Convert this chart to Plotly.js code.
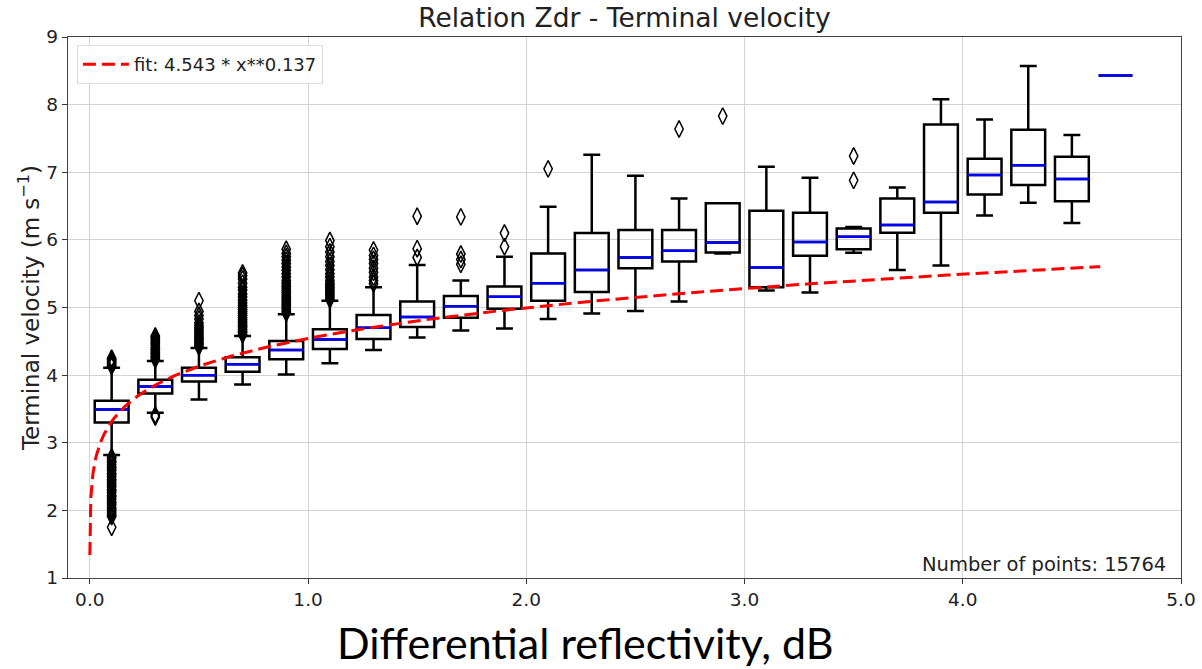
<!DOCTYPE html>
<html>
<head>
<meta charset="utf-8">
<script src="https://cdn.plot.ly/plotly-3.0.1.min.js"></script>
<style>
  html, body { margin: 0; padding: 0; background: #fff; }
  #chart { width: 1202px; height: 669px; }
</style>
</head>
<body>
<div id="chart"></div>
<script>
// ---- Data ----
const binCenters = [0.1, 0.3, 0.5, 0.7, 0.9, 1.1, 1.3, 1.5, 1.7, 1.9, 2.1, 2.3,
                    2.5, 2.7, 2.9, 3.1, 3.3, 3.5, 3.7, 3.9, 4.1, 4.3, 4.5, 4.7];
const q1Values = [3.30, 3.73, 3.905, 4.05, 4.235, 4.385, 4.535, 4.71, 4.85, 4.98, 5.10, 5.23,
                  5.58, 5.68, 5.815, 5.30, 5.765, 5.86, 6.105, 6.40, 6.67, 6.81, 6.57, 8.43];
const medianValues = [3.49, 3.83, 4.00, 4.16, 4.37, 4.525, 4.70, 4.86, 5.02, 5.16, 5.36, 5.555,
                      5.74, 5.84, 5.96, 5.59, 5.97, 6.045, 6.22, 6.56, 6.96, 7.105, 6.90, 8.43];
const q3Values = [3.62, 3.93, 4.11, 4.265, 4.505, 4.68, 4.89, 5.09, 5.17, 5.31, 5.80, 6.10,
                  6.145, 6.145, 6.54, 6.43, 6.40, 6.17, 6.61, 7.705, 7.20, 7.63, 7.23, 8.43];
const lowerWhisker = [2.82, 3.445, 3.64, 3.86, 4.01, 4.175, 4.37, 4.555, 4.66, 4.69, 4.83, 4.91,
                      4.95, 5.09, 5.80, 5.25, 5.22, 5.81, 5.555, 5.62, 6.36, 6.55, 6.25, 8.43];
const upperWhisker = [4.11, 4.21, 4.40, 4.58, 4.90, 5.10, 5.30, 5.63, 5.40, 5.75, 6.49, 7.26,
                      6.95, 6.61, 6.54, 7.08, 6.92, 6.19, 6.775, 8.08, 7.78, 8.57, 7.55, 8.43];

// Outliers (fliers) per bin, same order as binCenters
const outliers = [
  [4.13, 4.15, 4.17, 4.19, 4.21, 4.23, 4.25,
   2.79, 2.77, 2.73, 2.71, 2.68, 2.64, 2.62, 2.59, 2.55, 2.53, 2.50, 2.46, 2.44, 2.41,
   2.38, 2.35, 2.31, 2.29, 2.26, 2.22, 2.20, 2.17, 2.13, 2.11, 2.08, 2.04, 2.02, 1.99,
   1.96, 1.93, 1.91, 1.75],
  [4.23, 4.26, 4.28, 4.31, 4.33, 4.36, 4.38, 4.41, 4.44, 4.47, 4.50, 4.53, 4.56, 4.58, 3.41, 3.38],
  [4.42, 4.45, 4.47, 4.50, 4.53, 4.55, 4.58, 4.61, 4.64, 4.67, 4.70, 4.73, 4.77, 4.83, 4.88, 4.94, 5.10],
  [4.60, 4.63, 4.65, 4.68, 4.71, 4.73, 4.76, 4.79, 4.82, 4.85, 4.88, 4.91, 4.94, 4.97, 5.00,
   5.03, 5.07, 5.11, 5.16, 5.20, 5.26, 5.30, 5.36, 5.42, 5.47, 5.51],
  [4.92, 4.95, 4.98, 5.01, 5.04, 5.07, 5.10, 5.13, 5.16, 5.19, 5.22, 5.25, 5.29, 5.32, 5.36,
   5.40, 5.45, 5.50, 5.55, 5.60, 5.65, 5.70, 5.75, 5.80, 5.86],
  [5.12, 5.15, 5.18, 5.21, 5.24, 5.27, 5.30, 5.33, 5.36, 5.40, 5.45, 5.50, 5.56, 5.62, 5.68,
   5.75, 5.82, 5.90, 5.99],
  [5.35, 5.40, 5.45, 5.52, 5.58, 5.65, 5.71, 5.77, 5.85],
  [6.35, 5.87, 5.74],
  [6.34, 5.79, 5.71, 5.64],
  [6.10, 5.90],
  [7.05],
  [],
  [],
  [7.64],
  [7.83],
  [],
  [],
  [7.24, 6.88],
  [], [], [], [], [], []
];

// Fit curve from the legend: v = fitA * x ** fitB
const fitA = 4.543;
const fitB = 0.137;
const fitXmin = 0.000135;
const fitXmax = 4.63;
const fitLabel = 'fit: 4.543 * x**0.137';
const pointsLabel = 'Number of points: 15764';
const chartTitle = 'Relation Zdr - Terminal velocity';
const xTitle = 'Differential reflectivity, dB';
const yTitle = 'Terminal velocity (m s<sup>−1</sup>)';
const xTickVals = [0, 1, 2, 3, 4, 5];
const xTickText = ['0.0', '1.0', '2.0', '3.0', '4.0', '5.0'];
const yTickVals = [1, 2, 3, 4, 5, 6, 7, 8, 9];

// ---- Build traces ----
const fitX = [];
let xv = fitXmin;
while (xv < 0.05) { fitX.push(xv); xv *= 1.15; }
for (let i = 0; i <= 300; i++) fitX.push(0.05 + (fitXmax - 0.05) * i / 300);
const fitY = fitX.map(x => fitA * Math.pow(x, fitB));

const outX = [], outY = [];
outliers.forEach((arr, i) => arr.forEach(v => { outX.push(binCenters[i]); outY.push(v); }));

const boxWidth = 0.155;

const boxTrace = {
  type: 'box',
  x: binCenters,
  q1: q1Values,
  median: medianValues,
  q3: q3Values,
  lowerfence: lowerWhisker,
  upperfence: upperWhisker,
  width: boxWidth,
  whiskerwidth: 0.5,
  boxpoints: false,
  line: { color: '#000000', width: 2.5 },
  fillcolor: 'rgba(0,0,0,0)',
  showlegend: false,
  hoverinfo: 'skip'
};

const medianTrace = {
  type: 'box',
  x: binCenters,
  q1: medianValues,
  median: medianValues,
  q3: medianValues,
  lowerfence: medianValues,
  upperfence: medianValues,
  width: boxWidth,
  whiskerwidth: 1,
  boxpoints: false,
  line: { color: '#0000ff', width: 2.5 },
  fillcolor: 'rgba(0,0,0,0)',
  showlegend: false,
  hoverinfo: 'skip'
};

const outlierTrace = {
  type: 'scatter',
  mode: 'markers',
  x: outX,
  y: outY,
  marker: { symbol: 'diamond-tall-open', size: 12, color: '#000000', line: { color: '#000000', width: 1.5 } },
  showlegend: false,
  hoverinfo: 'skip'
};

const fitTrace = {
  type: 'scatter',
  mode: 'lines',
  x: fitX,
  y: fitY,
  name: fitLabel,
  line: { color: '#ff0000', width: 3, dash: '13px,6px' },
  hoverinfo: 'skip'
};

const layout = {
  width: 1202,
  height: 669,
  margin: { l: 68, r: 21, t: 37, b: 91 },
  paper_bgcolor: '#ffffff',
  plot_bgcolor: '#ffffff',
  boxmode: 'overlay',
  title: {
    text: chartTitle,
    font: { family: 'DejaVu Sans', size: 26.5, color: '#222222' },
    x: 0.5, xref: 'paper', xanchor: 'center',
    y: 1 - 18 / 669, yref: 'container', yanchor: 'middle'
  },
  xaxis: {
    range: [-0.1, 5.0],
    tickvals: xTickVals,
    ticktext: xTickText,
    ticks: 'outside', ticklen: 5, tickwidth: 1, tickcolor: '#333333',
    tickfont: { family: 'DejaVu Sans', size: 18.5, color: '#222222' },
    showgrid: true, gridcolor: '#d3d3d3', gridwidth: 1,
    showline: true, mirror: true, linecolor: '#444444', linewidth: 1.2,
    zeroline: false
  },
  yaxis: {
    range: [1, 9],
    tickvals: yTickVals,
    ticks: 'outside', ticklen: 5, tickwidth: 1, tickcolor: '#333333',
    tickfont: { family: 'DejaVu Sans', size: 18.5, color: '#222222' },
    showgrid: true, gridcolor: '#d3d3d3', gridwidth: 1,
    showline: true, mirror: true, linecolor: '#444444', linewidth: 1.2,
    zeroline: false,
    title: {
      text: yTitle,
      font: { family: 'DejaVu Sans', size: 23, color: '#222222' },
      standoff: 0
    }
  },
  legend: {
    x: 0.008, y: 0.985, xanchor: 'left', yanchor: 'top',
    bgcolor: 'rgba(255,255,255,0.85)', bordercolor: '#dddddd', borderwidth: 1,
    itemwidth: 46,
    font: { family: 'DejaVu Sans', size: 18, color: '#222222' }
  },
  showlegend: true,
  annotations: [{
    text: pointsLabel,
    xref: 'paper', yref: 'paper',
    x: 0.988, y: 0.0245, xanchor: 'right', yanchor: 'middle',
    showarrow: false,
    font: { family: 'DejaVu Sans', size: 19.5, color: '#222222' }
  }, {
    text: xTitle,
    xref: 'paper', yref: 'paper',
    x: (585.5 - 68) / 1113, y: -(643 - 578.3) / 541.6, xanchor: 'center', yanchor: 'middle',
    showarrow: false,
    font: { family: 'Lato', size: 43, color: '#000000' }
  }]
};

Plotly.newPlot('chart', [boxTrace, medianTrace, outlierTrace, fitTrace], layout,
  { displayModeBar: false, staticPlot: true });
</script>
</body>
</html>
